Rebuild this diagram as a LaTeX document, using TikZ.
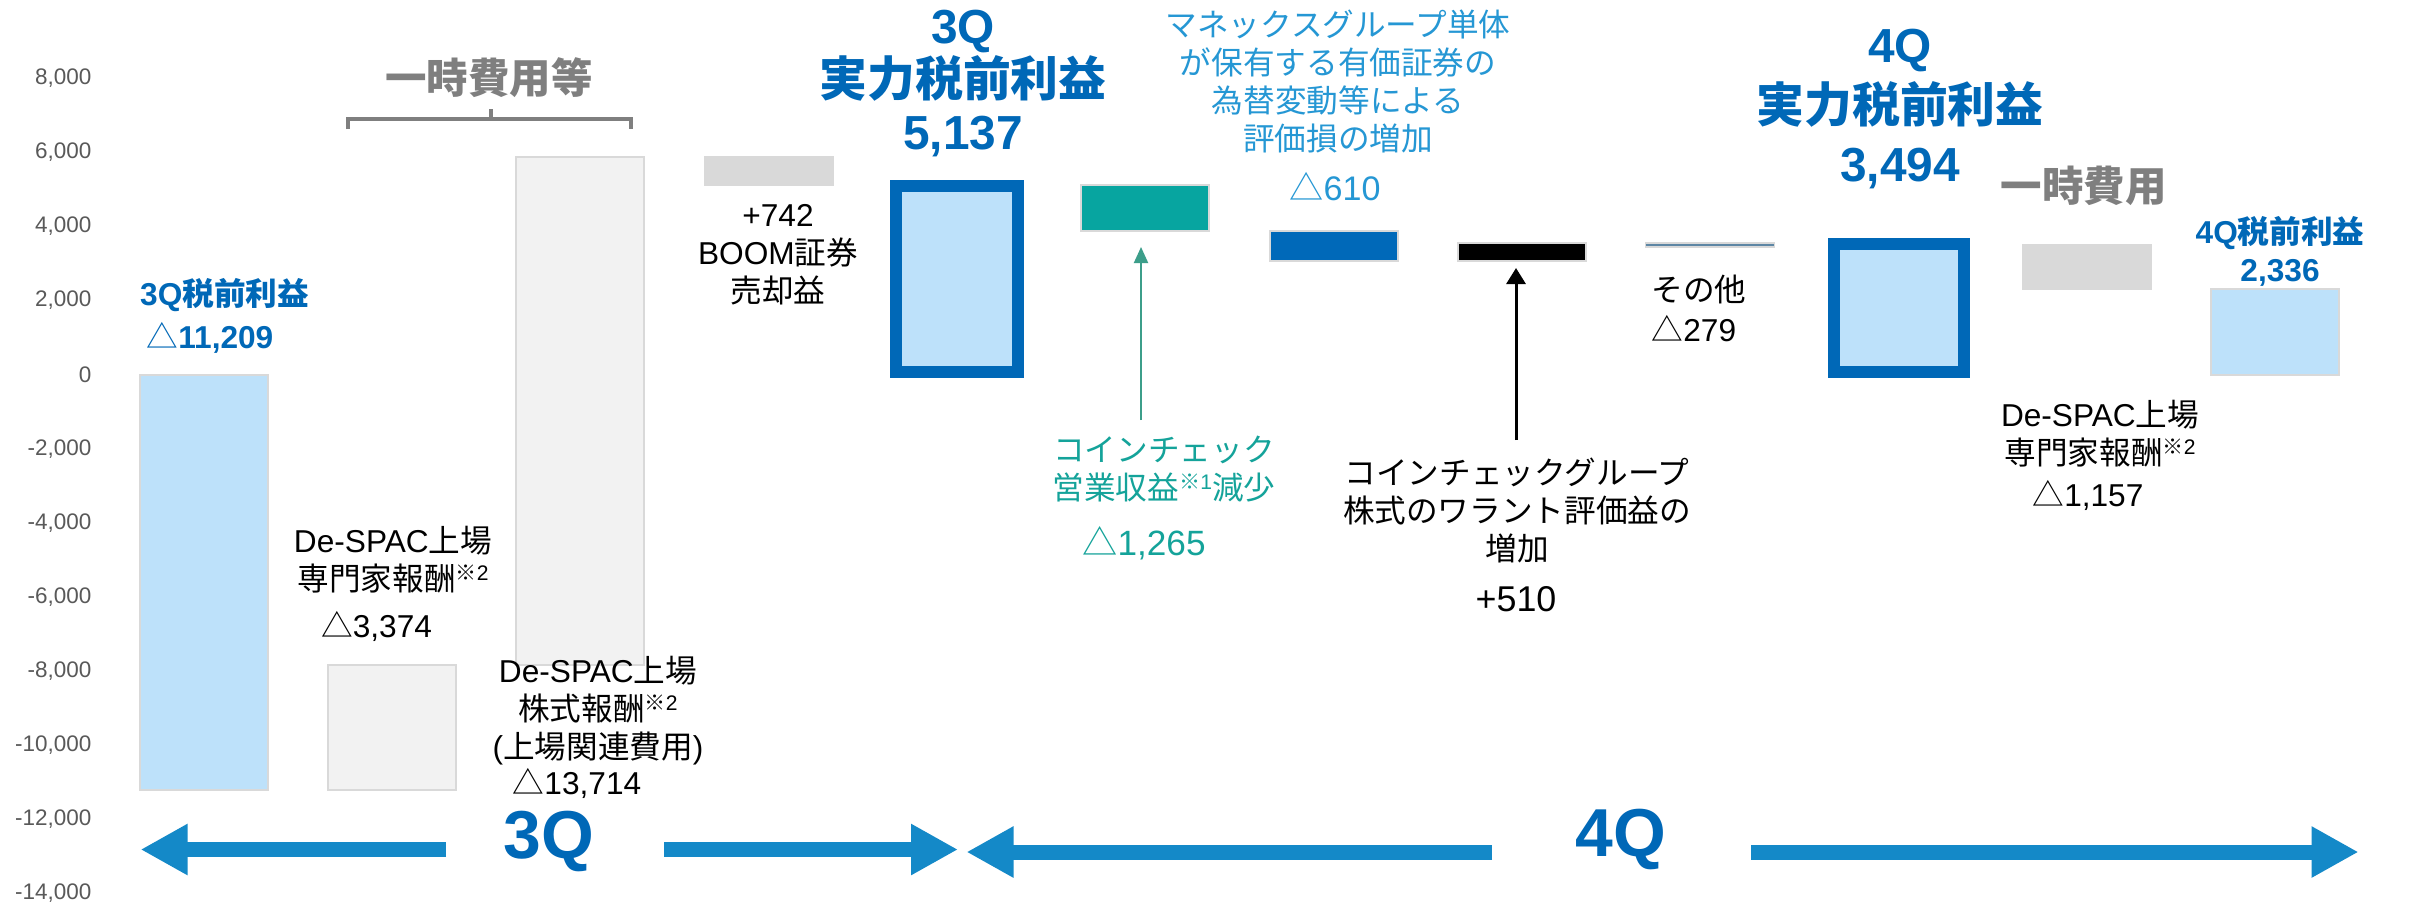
\documentclass[tikz,border=0pt]{standalone}
\usepackage{fontspec}
\setmainfont{Liberation Sans}
\newfontfamily\jpf{Noto Sans CJK JP}
\usetikzlibrary{arrows.meta}
\pgfdeclarelayer{bg}
\pgfsetlayers{bg,main}
\definecolor{cBlue}{HTML}{0068B7}
\definecolor{cLB}{HTML}{BDE1FA}
\definecolor{cGrid}{HTML}{D9D9D9}
\definecolor{cPale}{HTML}{F2F2F2}
\definecolor{cTeal}{HTML}{07A5A0}
\definecolor{cTealTxt}{HTML}{14A39A}
\definecolor{cSky}{HTML}{2597D4}
\definecolor{cMid}{HTML}{0069B9}
\definecolor{cArrow}{HTML}{1489C8}
\definecolor{cGrayTxt}{HTML}{7F7F7F}
\definecolor{cAxis}{HTML}{595959}
\definecolor{cOther}{HTML}{5E87A5}
\definecolor{cTealArr}{HTML}{3C9E8A}
\newcommand\J[1]{{\jpf #1}}
\newcommand\fs[2]{\fontsize{#1}{#2}\selectfont}
\newcommand\supnote[1]{\raisebox{0.32em}{\fs{6}{6}\J{※}#1}}
\begin{document}
\begin{tikzpicture}[x=0.1mm,y=-0.1mm,
  bar/.style={rectangle, inner sep=0pt, outer sep=0pt, minimum width=12.8mm, draw=cGrid, line width=0.2mm},
  kbar/.style={rectangle, inner sep=0pt, outer sep=0pt, fill=cLB, draw=cBlue, line width=1.2mm},
  conn/.style={draw=cGrid, line width=0.3mm},
  gridl/.style={draw=cGrid, line width=0.3mm},
  axl/.style={font=\fs{6.4}{7.5}, text=cAxis, anchor=east, inner sep=0pt},
  txt/.style={font=\fs{9}{10.8}, align=center, inner sep=0pt},
  val/.style={font=\fs{9}{10.8}, inner sep=0pt},
  ttl/.style={font=\bfseries\fs{13.6}{15.2}, text=cBlue, align=center, inner sep=0pt},
  sml/.style={font=\bfseries\fs{9}{10.6}, text=cBlue, inner sep=0pt},
  big/.style={font=\bfseries\fs{19.3}{22}, text=cBlue, inner sep=0pt},
  gtl/.style={font=\bfseries\fs{11.8}{14}, text=cGrayTxt, inner sep=0pt},
  brk/.style={draw=cGrayTxt, line width=0.4mm},
  qarrow/.style={draw=cArrow, line width=1.5mm, -{Triangle[length=4.7mm,width=4.8mm]}},
  tarrow/.style={draw=cTealArr, line width=0.2mm, -{Triangle[length=1.6mm,width=1.4mm]}},
  karrow/.style={draw=black, line width=0.3mm, -{Triangle[length=1.6mm,width=1.9mm]}}
]
\useasboundingbox (0,0) rectangle (2412,905);
\fill[white] (0,0) rectangle (2412,905);

% axis labels
\foreach \v/\lab [count=\i] in {8000/{8,000},6000/{6,000},4000/{4,000},2000/{2,000},0/0,-2000/{-2,000},-4000/{-4,000},-6000/{-6,000},-8000/{-8,000},-10000/{-10,000},-12000/{-12,000},-14000/{-14,000}}
  \node[axl] (ax\i) at (92,{374.5-0.03707*\v}) {\lab};

% bars
\node[bar, fill=cLB, minimum height=41.55mm] (b1) at (203.8,582.25) {};
\node[bar, fill=cPale, minimum height=12.5mm] (b2) at (392.1,727.5) {};
\node[bar, fill=cPale, minimum height=50.84mm] (b3) at (580.4,410.8) {};
\node[bar, fill=cGrid, minimum height=2.79mm] (b4) at (768.7,170.55) {};
\node[kbar, minimum width=12.2mm, minimum height=18.6mm] (b5) at (957,279) {};
\node[bar, fill=cTeal, minimum height=4.6mm] (b6) at (1145.3,207.5) {};
\node[bar, fill=cMid, minimum height=3.0mm] (b7) at (1333.6,246) {};
\node[bar, fill=black, minimum height=1.77mm] (b8) at (1521.9,252.15) {};
\node[bar, fill=cGrid, minimum height=0.4mm] (b9) at (1710.2,245) {};
\draw[cOther, line width=0.15mm] (b9.west) -- (b9.east);
\node[kbar, minimum width=13mm, minimum height=12.8mm] (b10) at (1898.5,307.5) {};
\node[bar, fill=cGrid, minimum height=4.35mm] (b11) at (2086.8,266.75) {};
\node[bar, fill=cLB, minimum height=8.6mm] (b12) at (2275.1,331.5) {};

\begin{pgfonlayer}{bg}
\draw[gridl] (117,372) -- (2403,372);
\draw[gridl] (110,78) -- (110,893);
\draw[conn] (b1.south east) -- (b1.south east -| b2.west);
\draw[conn] (b2.north east) -- (b2.north east -| b3.west);
\draw[conn] (b3.north east) -- (b3.north east -| b4.west);
\draw[conn] (b4.south east) -- (b4.south east -| b5.west);
\draw[conn] (b6.north west) -- (b6.north west -| b5.east);
\draw[conn] (b6.south east) -- (b6.south east -| b7.west);
\draw[conn] (b7.south east) -- (b7.south east -| b8.west);
\draw[conn] (b8.north east) -- (b8.north east -| b9.west);
\draw[conn] (b9.east) -- (b9.east -| b10.west);
\draw[conn] (b11.north west) -- (b11.north west -| b10.east);
\draw[conn] (b11.south east) -- (b11.south east -| b12.west);
\end{pgfonlayer}

% top-left bracket
\node[gtl] (tOneoff) at (489,78) {\J{一時費用等}};
\coordinate (brL) at (348,129);
\coordinate (brR) at (631,129);
\coordinate (brM) at (491,119);
\draw[brk] (brL) -- ++(0,-10) -| (brR);
\draw[brk] (brM) -- ++(0,-10);

% labels 3Q side
\node[sml, anchor=west] (t3qp) at (139.5,295) {3Q\J{税前利益}};
\node[sml, anchor=west] (v3qp) at (146,338) {\J{\mdseries △}11,209};
\node[txt] (tFee1) at (393,559.5) {De-SPAC\J{上場}\\\J{専門家報酬}\supnote{2}};
\node[val] (vFee1) at (376.6,626) {\J{△}3,374};
\node[txt] (tStock) at (598,711) {De-SPAC\J{上場}\\\J{株式報酬}\supnote{2}\\(\J{上場関連費用})};
\node[val] (vStock) at (577,783) {\J{△}13,714};
\node[txt] (tBoom) at (778,255) {+742\\BOOM\J{証券}\\\J{売却益}};
\node[ttl] (t3qr) at (963,83.5) {3Q\\\J{実力税前利益}\\5,137};

% labels 4Q side
\node[txt, text=cSky] (tFx) at (1338,81.5) {\J{マネックスグループ単体}\\\J{が保有する有価証券の}\\\J{為替変動等による}\\\J{評価損の増加}};
\node[val, text=cSky, font=\fs{9.7}{11}] (vFx) at (1335,187) {\J{△}610};
\node[txt, text=cTealTxt] (tCc) at (1164,469) {\J{コインチェック}\\\J{営業収益}\supnote{1}\J{減少}};
\node[val, text=cTealTxt, font=\fs{10}{12}] (vCc) at (1144,543) {\J{△}1,265};
\coordinate (aCcS) at (1141,420);
\coordinate (aCcT) at (1141,247);
\draw[tarrow] (aCcS) -- (aCcT);
\node[txt] (tWar) at (1517,510.5) {\J{コインチェックグループ}\\\J{株式のワラント評価益の}\\\J{増加}};
\node[val, font=\fs{10.2}{12}] (vWar) at (1516,599) {+510};
\coordinate (aWarS) at (1516,440);
\coordinate (aWarT) at (1516,268);
\draw[karrow] (aWarS) -- (aWarT);
\node[txt, anchor=west, align=left, font=\fs{9}{11.4}] (tOth) at (1651,308) {\J{その他}\\\J{△}279};
\node[ttl, font=\bfseries\fs{13.6}{16.8}] (t4qr) at (1900,109) {4Q\\\J{実力税前利益}\\3,494};
\node[gtl] (tOneoff2) at (2083.6,186) {\J{一時費用}};
\node[sml, align=center] (t4qp) at (2280,251.5) {4Q\J{税前利益}\\2,336};
\node[txt] (tFee2) at (2100,434) {De-SPAC\J{上場}\\\J{専門家報酬}\supnote{2}};
\node[val] (vFee2) at (2088,495) {\J{△}1,157};

% period arrows
\node[big] (q3) at (549,841) {3Q};
\node[big] (q4) at (1621,839) {4Q};
\coordinate (a1s) at (446,849.5);
\coordinate (a1t) at (140.6,849.5);
\coordinate (a2s) at (664,849.5);
\coordinate (a2t) at (958,849.5);
\coordinate (a3s) at (1492,852);
\coordinate (a3t) at (966.5,852);
\coordinate (a4s) at (1751,852);
\coordinate (a4t) at (2358.5,852);
\draw[qarrow] (a1s) -- (a1t);
\draw[qarrow] (a2s) -- (a2t);
\draw[qarrow] (a3s) -- (a3t);
\draw[qarrow] (a4s) -- (a4t);
\end{tikzpicture}
\end{document}
